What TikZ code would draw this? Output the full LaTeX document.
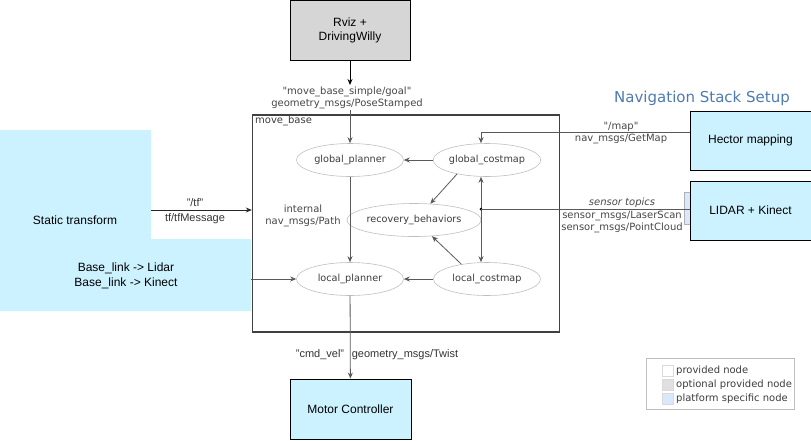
\documentclass[tikz,border=0pt]{standalone}
\usepackage{fontspec}
\setmainfont{Liberation Sans}
\newfontfamily\dvfont{DejaVu Sans}
\usetikzlibrary{shapes.geometric,arrows.meta}
\definecolor{cyanfill}{RGB}{204,242,255}
\definecolor{rvizfill}{RGB}{214,214,214}
\definecolor{ellline}{RGB}{190,190,190}
\definecolor{rostext}{RGB}{60,60,60}
\definecolor{lbltext}{RGB}{70,70,70}
\definecolor{titleblue}{RGB}{77,123,176}
\definecolor{platfill}{RGB}{218,232,252}
\definecolor{optfill}{RGB}{224,224,224}
\begin{document}
\begin{tikzpicture}[x=1pt,y=-1pt,
  every node/.style={inner sep=0pt},
  extbox/.style={draw=black, line width=0.9pt, fill=cyanfill, minimum width=120pt, minimum height=59pt, font=\fontsize{12}{14}\selectfont, align=center},
  ros/.style={ellipse, draw=ellline, line width=0.6pt, minimum width=107pt, minimum height=33pt, font=\dvfont\fontsize{9.7}{11}\selectfont, text=rostext},
  lbl/.style={font=\dvfont\fontsize{10}{12}\selectfont, text=lbltext, align=center},
  albl/.style={font=\fontsize{11}{13}\selectfont, text=black!80, align=center},
  tip/.style={-{Stealth[length=6pt,width=5pt]}},
  conn/.style={draw=black!65, line width=0.8pt, tip},
  legsq/.style={draw=black!15, minimum size=11pt},
]
\useasboundingbox (0,0) rectangle (811,440);

% static transform region
\fill[cyanfill] (0,130) -- (151,130) -- (151,239) -- (251,239) -- (251,311) -- (0,311) -- cycle;
\node[font=\fontsize{12}{14}\selectfont] (st) at (75,220) {Static transform};
\node[font=\fontsize{12}{15}\selectfont, align=center] (bl) at (126,276) {Base\_link -> Lidar\\Base\_link -> Kinect};
\coordinate (tfsrc) at (151,210);
\coordinate (blsrc) at (251,279);

% title
\node[text=titleblue, font=\dvfont\fontsize{15}{18}\selectfont] (title) at (702,98) {Navigation Stack Setup};

% external boxes
\node[extbox, fill=rvizfill, minimum width=120pt, minimum height=60pt] (rviz) at (350,30) {Rviz +\\DrivingWilly};
\node[extbox, minimum width=121pt, minimum height=59pt] (hector) at (750.5,140.5) {Hector mapping};
\filldraw[fill=platfill, draw=black!30] (684,192) rectangle (690,224);
\node[extbox, minimum width=121pt, minimum height=59pt] (lidar) at (750.5,210.5) {LIDAR + Kinect};
\node[extbox, minimum width=121pt, minimum height=60pt] (motor) at (350.5,409) {Motor Controller};

% move_base box
\node[draw=black!75, line width=1.4pt, minimum width=307pt, minimum height=217pt] (mb) at (406,223.5) {};
\node[lbl, text=rostext, anchor=north west] (mblbl) at (255,115.5) {move\_base};

% ros nodes
\node[ros] (gp) at (350,160) {global\_planner};
\node[ros] (gc) at (487,160) {global\_costmap};
\node[ros] (rb) at (414,220) {recovery\_behaviors};
\node[ros] (lp) at (350,279) {local\_planner};
\node[ros] (lc) at (487,279) {local\_costmap};

% goal input
\coordinate (goaltip) at (350,85);
\coordinate (goal) at (350,110);
\draw[black, line width=0.9pt, tip] (rviz.south) -- (goaltip);
\node[lbl] (goallbl) at (347,97.5) {"move\_base\_simple/goal"\\geometry\_msgs/PoseStamped};
\draw[conn] (goal) -- (gp.north);

% internal connections
\draw[conn] (gc) -- (gp);
\draw[conn] (gc.205) -- (rb.45);
\draw[conn] (lc.150) -- (rb.-42);
\draw[conn] (lc) -- (lp);
\draw[conn] (gp) -- (lp);
\node[lbl] (pathlbl) at (303,216) {internal\\nav\_msgs/Path};

% sensor / costmap
\coordinate (sdot) at (481,209);
\coordinate (mapy) at (0,132);
\draw[conn, {Stealth[length=6pt,width=5pt]}-{Stealth[length=6pt,width=5pt]}] (sdot |- gc.south) -- (sdot |- lc.north);
\fill[black] (sdot) circle (1.5pt);
\draw[black!65, line width=0.8pt] (lidar.west |- sdot) -- (sdot);
\node[lbl, font=\dvfont\itshape\fontsize{10}{12}\selectfont] (senslbl) at (622,203) {sensor topics};
\node[lbl] (senstypes) at (622,222) {sensor\_msgs/LaserScan\\sensor\_msgs/PointCloud};

% map
\draw[conn] (hector.west |- mapy) -- (sdot |- mapy) -- (sdot |- gc.north);
\node[lbl] (maplbl) at (621,133) {"/map"\\nav\_msgs/GetMap};

% tf
\draw[black!85, line width=0.8pt, tip] (tfsrc) -- (tfsrc -| mb.west);
\node[albl] (tfq) at (195,203) {"/tf"};
\node[albl] (tfmsg) at (195,219) {tf/tfMessage};

% base link to local planner
\draw[conn] (blsrc) -- (lp);

% cmd_vel
\draw[conn] (lp) -- (motor);
\node[albl] (cmdq) at (320,355) {"cmd\_vel"};
\node[albl] (cmdt) at (405,355) {geometry\_msgs/Twist};

% legend
\node[draw=black!25, line width=0.6pt, minimum width=148pt, minimum height=51pt] (leg) at (720,383.5) {};
\node[legsq, fill=white] (sq1) at (668,371) {};
\node[legsq, fill=optfill] (sq2) at (668,385) {};
\node[legsq, fill=platfill] (sq3) at (668,399) {};
\node[lbl, text=rostext, anchor=west] (l1) at (676,371) {provided node};
\node[lbl, text=rostext, anchor=west] (l2) at (676,385) {optional provided node};
\node[lbl, text=rostext, anchor=west] (l3) at (676,399) {platform specific node};
\end{tikzpicture}
\end{document}
